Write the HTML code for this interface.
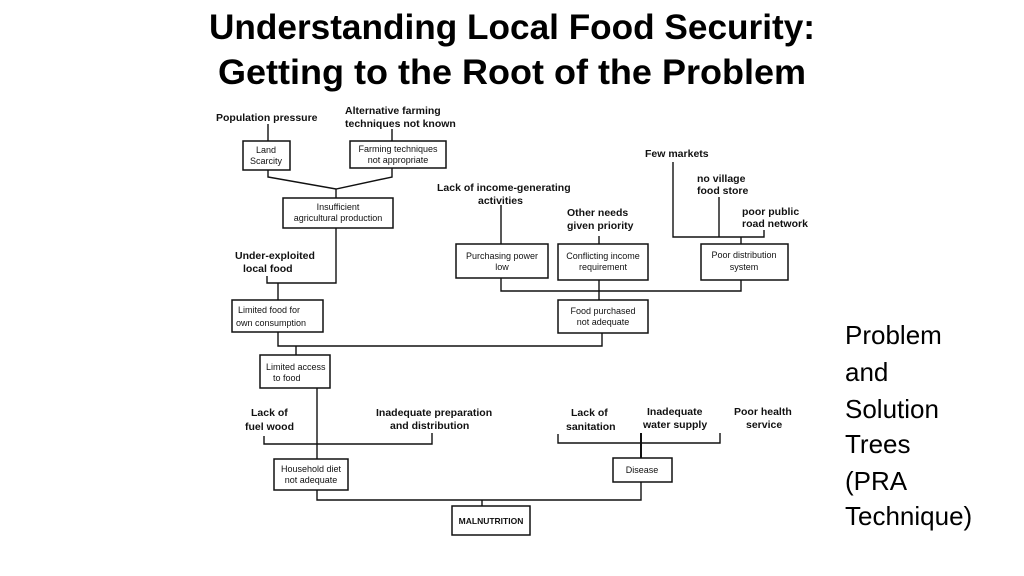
<!DOCTYPE html>
<html><head><meta charset="utf-8"><style>
html,body{margin:0;padding:0;background:#fff;width:1024px;height:576px;overflow:hidden}
svg{display:block}
.t{font-family:"Liberation Sans",Arial,sans-serif;font-weight:bold;font-size:35px;fill:#000}
.l{font-family:"Liberation Sans",Arial,sans-serif;font-weight:bold;font-size:10.5px;fill:#111}
.b{font-family:"Liberation Sans",Arial,sans-serif;font-size:9px;fill:#111}
.r{font-family:"Liberation Sans",Arial,sans-serif;font-size:26px;fill:#000}
rect{fill:#fff;stroke:#111;stroke-width:1.5}
line,polyline{stroke:#111;stroke-width:1.4;fill:none}
</style></head><body>
<svg width="1024" height="576" viewBox="0 0 1024 576">
<text class="t" x="512" y="39" text-anchor="middle" textLength="606" lengthAdjust="spacingAndGlyphs">Understanding Local Food Security:</text>
<text class="t" x="512" y="84" text-anchor="middle" textLength="588" lengthAdjust="spacingAndGlyphs">Getting to the Root of the Problem</text>

<text class="r" x="845" y="344">Problem</text>
<text class="r" x="845" y="381">and</text>
<text class="r" x="845" y="418">Solution</text>
<text class="r" x="845" y="453">Trees</text>
<text class="r" x="845" y="490">(PRA</text>
<text class="r" x="845" y="525">Technique)</text>

<!-- connectors -->
<line x1="268" y1="124" x2="268" y2="141"/>
<line x1="392" y1="129" x2="392" y2="141"/>
<polyline points="268,170 268,177 336,189 392,177 392,168"/>
<line x1="336" y1="189" x2="336" y2="198"/>
<polyline points="336,228 336,283 267,283 267,276"/>
<line x1="278" y1="283" x2="278" y2="300"/>
<polyline points="278,332 278,346 602,346 602,333"/>
<line x1="296" y1="346" x2="296" y2="355"/>
<line x1="501" y1="205" x2="501" y2="244"/>
<line x1="599" y1="236" x2="599" y2="244"/>
<polyline points="673,162 673,237 764,237 764,230"/>
<line x1="719" y1="197" x2="719" y2="237"/>
<line x1="741" y1="237" x2="741" y2="244"/>
<polyline points="501,278 501,291 741,291 741,280"/>
<line x1="599" y1="280" x2="599" y2="300"/>
<line x1="317" y1="388" x2="317" y2="459"/>
<polyline points="264,436 264,444 432,444 432,433"/>
<polyline points="558,434 558,443 720,443 720,433"/>
<line x1="641" y1="433" x2="641" y2="458" style="stroke-width:2"/>
<polyline points="317,490 317,500 641,500 641,482"/>
<line x1="482" y1="500" x2="482" y2="506"/>

<!-- boxes -->
<rect x="243" y="141" width="47" height="29"/>
<text class="b" x="266" y="153" text-anchor="middle">Land</text>
<text class="b" x="266" y="164" text-anchor="middle">Scarcity</text>
<rect x="350" y="141" width="96" height="27"/>
<text class="b" x="398" y="152" text-anchor="middle">Farming techniques</text>
<text class="b" x="398" y="163" text-anchor="middle">not appropriate</text>
<rect x="283" y="198" width="110" height="30"/>
<text class="b" x="338" y="210" text-anchor="middle">Insufficient</text>
<text class="b" x="338" y="221" text-anchor="middle">agricultural  production</text>
<rect x="232" y="300" width="91" height="32"/>
<text class="b" x="238" y="313">Limited food for</text>
<text class="b" x="236" y="326">own consumption</text>
<rect x="456" y="244" width="92" height="34"/>
<text class="b" x="502" y="259" text-anchor="middle">Purchasing power</text>
<text class="b" x="502" y="270" text-anchor="middle">low</text>
<rect x="558" y="244" width="90" height="36"/>
<text class="b" x="603" y="259" text-anchor="middle">Conflicting income</text>
<text class="b" x="603" y="270" text-anchor="middle">requirement</text>
<rect x="701" y="244" width="87" height="36"/>
<text class="b" x="744" y="258" text-anchor="middle">Poor distribution</text>
<text class="b" x="744" y="270" text-anchor="middle">system</text>
<rect x="558" y="300" width="90" height="33"/>
<text class="b" x="603" y="314" text-anchor="middle">Food purchased</text>
<text class="b" x="603" y="325" text-anchor="middle">not adequate</text>
<rect x="260" y="355" width="70" height="33"/>
<text class="b" x="266" y="370">Limited access</text>
<text class="b" x="273" y="381">to food</text>
<rect x="274" y="459" width="74" height="31"/>
<text class="b" x="311" y="472" text-anchor="middle">Household diet</text>
<text class="b" x="311" y="483" text-anchor="middle">not adequate</text>
<rect x="613" y="458" width="59" height="24"/>
<text class="b" x="642" y="473" text-anchor="middle">Disease</text>
<rect x="452" y="506" width="78" height="29"/>
<text class="b" x="491" y="524" text-anchor="middle" style="font-weight:bold;font-size:8.5px">MALNUTRITION</text>

<!-- labels -->
<text class="l" x="216" y="121">Population pressure</text>
<text class="l" x="345" y="114">Alternative farming</text>
<text class="l" x="345" y="127">techniques not known</text>
<text class="l" x="235" y="259">Under-exploited</text>
<text class="l" x="243" y="272">local  food</text>
<text class="l" x="437" y="191">Lack of income-generating</text>
<text class="l" x="478" y="204">activities</text>
<text class="l" x="567" y="216">Other needs</text>
<text class="l" x="567" y="229">given priority</text>
<text class="l" x="645" y="157">Few markets</text>
<text class="l" x="697" y="182">no village</text>
<text class="l" x="697" y="194">food store</text>
<text class="l" x="742" y="215">poor public</text>
<text class="l" x="742" y="227">road network</text>
<text class="l" x="251" y="416">Lack of</text>
<text class="l" x="245" y="430">fuel wood</text>
<text class="l" x="376" y="416">Inadequate preparation</text>
<text class="l" x="390" y="429">and distribution</text>
<text class="l" x="571" y="416">Lack of</text>
<text class="l" x="566" y="430">sanitation</text>
<text class="l" x="647" y="415">Inadequate</text>
<text class="l" x="643" y="428">water supply</text>
<text class="l" x="734" y="415">Poor health</text>
<text class="l" x="746" y="428">service</text>
</svg>
</body></html>
